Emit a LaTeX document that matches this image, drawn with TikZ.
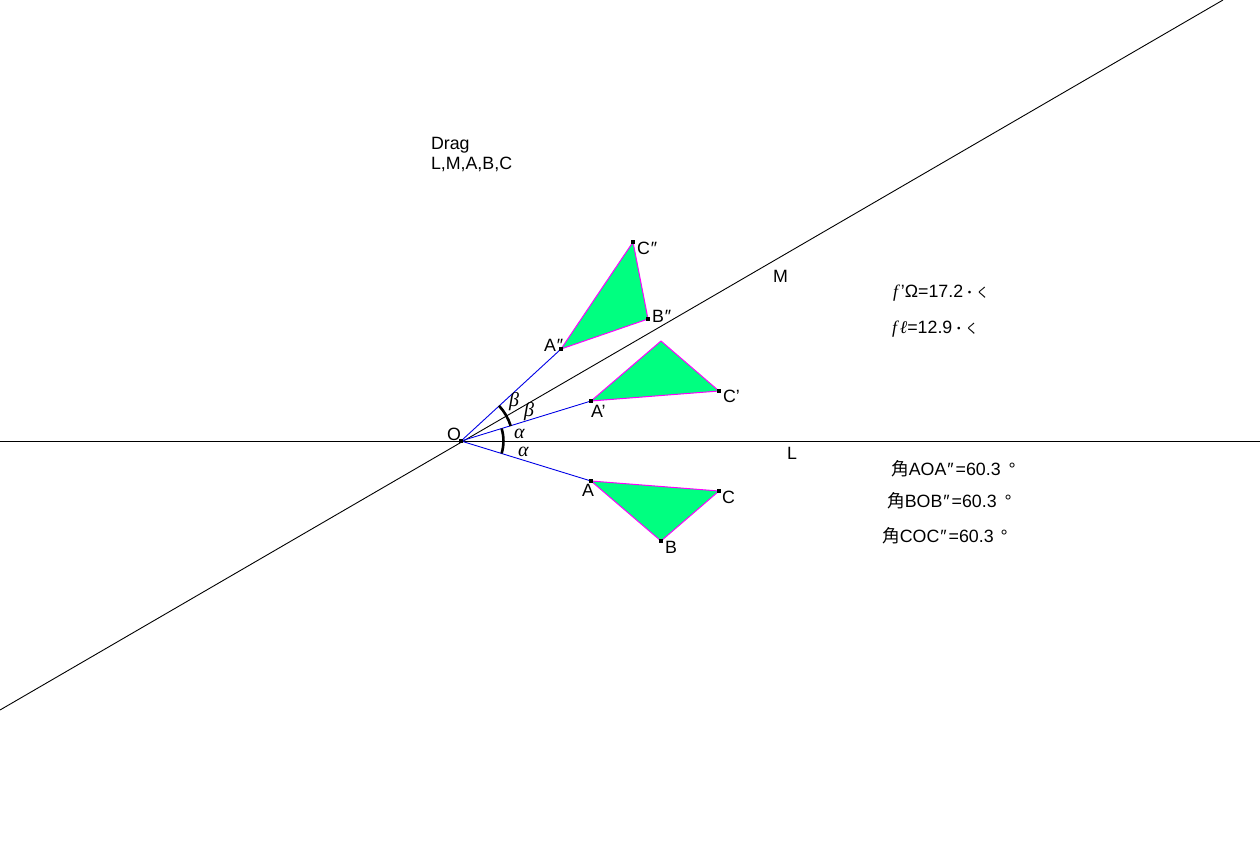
\documentclass[tikz,border=0pt]{standalone}
\usepackage{fontspec}
\setmainfont{Liberation Sans}
\newfontfamily\ser{Liberation Serif}
\newfontfamily\cjk{Noto Sans CJK JP}
\newcommand{\dpr}{\kern1pt″\kern2pt}
\tikzset{
  x=1pt,y=-1pt,
  lab/.style={anchor=base west,inner sep=0pt,outer sep=0pt,text=black,font=\fontsize{17.8}{20}\selectfont},
  greek/.style={anchor=base west,inner sep=0pt,outer sep=0pt,font=\ser\itshape\fontsize{20}{20}\selectfont},
  vertex/.style={rectangle,fill=black,inner sep=0pt,minimum size=3.5pt},
  axisline/.style={draw=black,line width=0.9pt},
  rayline/.style={draw=rayblue,line width=0.9pt},
  tri/.style={draw=edgepink,fill=triGreen,line width=1pt,line join=round},
  anglearc/.style={draw=black,line width=2.6pt},
}
\definecolor{rayblue}{RGB}{0,0,230}
\definecolor{edgepink}{RGB}{255,0,255}
\definecolor{triGreen}{RGB}{0,255,128}
\begin{document}
\begin{tikzpicture}
\useasboundingbox[fill=white] (0,0) rectangle (1260,854);
% free ends of the axes and the centre
\coordinate (L1) at (0,441);
\coordinate (L2) at (1260,441);
\coordinate (M1) at (0,710);
\coordinate (M2) at (1223,0);
\coordinate (O) at (461,441);
% vertices
\coordinate (Ap) at (591,481);
\coordinate (Bp) at (661,541);
\coordinate (Cp) at (719,491);
\coordinate (A1p) at (591,401);
\coordinate (B1p) at (661,341);
\coordinate (C1p) at (719,391);
\coordinate (A2p) at (561,349);
\coordinate (B2p) at (648,319);
\coordinate (C2p) at (633,242);
% axes
\draw[axisline] (L1) -- (L2);
\draw[axisline] (M1) -- (M2);
% triangles
\draw[tri] (Ap) -- (Bp) -- (Cp) -- cycle;
\draw[tri] (A1p) -- (B1p) -- (C1p) -- cycle;
\draw[tri] (A2p) -- (B2p) -- (C2p) -- cycle;
% rays
\draw[rayline] (O) -- (Ap);
\draw[rayline] (O) -- (A1p);
\draw[rayline] (O) -- (A2p);
% angle arcs
\draw[anglearc] (501.6,453.4) arc[start angle=17,end angle=-17,radius=42.5];
\draw[anglearc] (510.7,426) arc[start angle=-17,end angle=-43,radius=52];
% vertex marks
\node[vertex] (A) at (Ap) {};
\node[vertex] (B) at (Bp) {};
\node[vertex] (C) at (Cp) {};
\node[vertex] (A1) at (A1p) {};
\node[vertex] (C1) at (C1p) {};
\node[vertex] (A2) at (A2p) {};
\node[vertex] (B2) at (B2p) {};
\node[vertex] (C2) at (C2p) {};
\node[vertex,minimum size=4pt] (Omark) at (O) {};
% labels
\node[lab,align=left,anchor=north west] (drag) at (431,137) {Drag\\L,M,A,B,C};
\node[lab] (tO) at (447,440) {O};
\node[lab] (tM) at (773,282) {M};
\node[lab] (tL) at (787,459) {L};
\node[lab] (tA) at (582,496) {A};
\node[lab] (tB) at (665,553) {B};
\node[lab] (tC) at (722,503) {C};
\node[lab] (tA1) at (591,417) {A'};
\node[lab] (tC1) at (723,402) {C'};
\node[lab] (tA2) at (544,351) {A\dpr};
\node[lab] (tB2) at (652,322) {B\dpr};
\node[lab] (tC2) at (637,254) {C\dpr};
\node[greek] (ga1) at (514,438) {α};
\node[greek] (ga2) at (518,456) {α};
\node[greek] (gb1) at (509,406) {β};
\node[greek] (gb2) at (524,416) {β};
\node[lab] (r1) at (893,297) {{\ser\itshape f\,}'Ω=17.2{\cjk\fontsize{13}{14}\selectfont ・く}};
\node[lab] (r2) at (892,333) {{\ser\itshape f\,ℓ}=12.9{\cjk\fontsize{13}{14}\selectfont ・く}};
\node[lab] (r3) at (891,475) {{\cjk 角}AOA\dpr=60.3\kern8pt°};
\node[lab] (r4) at (887,507) {{\cjk 角}BOB\dpr=60.3\kern8pt°};
\node[lab] (r5) at (882,542) {{\cjk 角}COC\dpr=60.3\kern7pt°};
\end{tikzpicture}
\end{document}
